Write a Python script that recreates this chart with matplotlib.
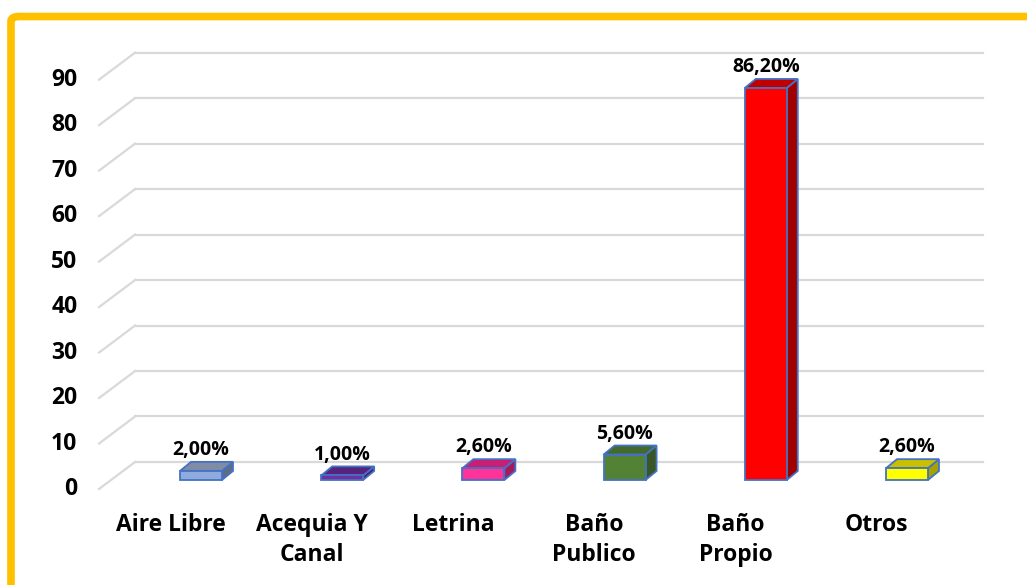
import matplotlib
matplotlib.use("Agg")
import matplotlib.pyplot as plt
from matplotlib.patches import Polygon, FancyBboxPatch

# datos
categorias = ["Aire Libre", "Acequia Y\nCanal", "Letrina", "Baño\nPublico", "Baño\nPropio", "Otros"]
valores = [2.0, 1.0, 2.6, 5.6, 86.2, 2.6]
etiquetas = ["2,00%", "1,00%", "2,60%", "5,60%", "86,20%", "2,60%"]
ticks_y = [0, 10, 20, 30, 40, 50, 60, 70, 80, 90]

# colores: frente, tapa, lado
c_frente = ["#8FAADC", "#7030A0", "#FF3399", "#548235", "#FF0000", "#FFFF00"]
c_tapa = ["#7F8CA6", "#56237D", "#C81E74", "#446A2B", "#C00000", "#C9C000"]
c_lado = ["#5F6C88", "#4A1C6C", "#A5195F", "#385724", "#A00000", "#A6A300"]
borde = "#4472C4"

plt.rcParams["font.family"] = ["Open Sans", "DejaVu Sans"]
plt.rcParams["font.weight"] = "bold"

fig = plt.figure(figsize=(10.27, 5.85), dpi=100)
ax = fig.add_axes([0, 0, 1, 1])
ax.set_xlim(-1.4235, 5.850)
ax.set_ylim(-23.09, 105.54)
ax.axis("off")

w = 0.297      # ancho de barra
dx = 0.078     # profundidad en x
dy = 1.98      # profundidad en y
x_pared = -0.467
x_frente = -0.722
x_fin = 5.538
grid_c = "#D9D9D9"

# lineas de la cuadricula (pared de fondo y pared izquierda)
for v in ticks_y:
    ax.plot([x_pared, x_fin], [v + 2 * dy, v + 2 * dy], color=grid_c, lw=1.6, zorder=1)
    ax.plot([x_frente, x_pared], [v - dy, v + 2 * dy], color=grid_c, lw=1.6, zorder=1)
    ax.text(-0.8754, v - dy, str(v), ha="right", va="center", fontsize=16.5,
            fontweight="bold", color="black")

# barras 3D
xs = list(range(len(valores)))
for i, v in enumerate(valores):
    izq, der = i - w / 2, i + w / 2
    lado = Polygon([(der, 0), (der + dx, dy), (der + dx, v + dy), (der, v)], closed=True,
                   fc=c_lado[i], ec=borde, lw=1.3, zorder=3)
    tapa = Polygon([(izq, v), (izq + dx, v + dy), (der + dx, v + dy), (der, v)], closed=True,
                   fc=c_tapa[i], ec=borde, lw=1.3, zorder=3)
    ax.add_patch(lado)
    ax.add_patch(tapa)
ax.bar(xs, valores, width=w, color=c_frente, edgecolor=borde, linewidth=1.3, zorder=4)

for i, v in enumerate(valores):
    ax.text(i, v + dy + 1.5, etiquetas[i], ha="center", va="baseline", fontsize=14,
            fontweight="bold", color="black", zorder=5)
    ax.text(i - 0.215, -7.3, categorias[i], ha="center", va="top", fontsize=16.5,
            fontweight="bold", color="black", linespacing=1.35)

# marco naranja
marco = FancyBboxPatch((11 / 1027, -0.2), 1.2, 1.2 - 16.5 / 585,
                       boxstyle="round,pad=0,rounding_size=0.008",
                       transform=fig.transFigure, fill=False, ec="#FFC000", lw=5.5)
fig.patches.append(marco)

fig.savefig("out.png", dpi=100)
